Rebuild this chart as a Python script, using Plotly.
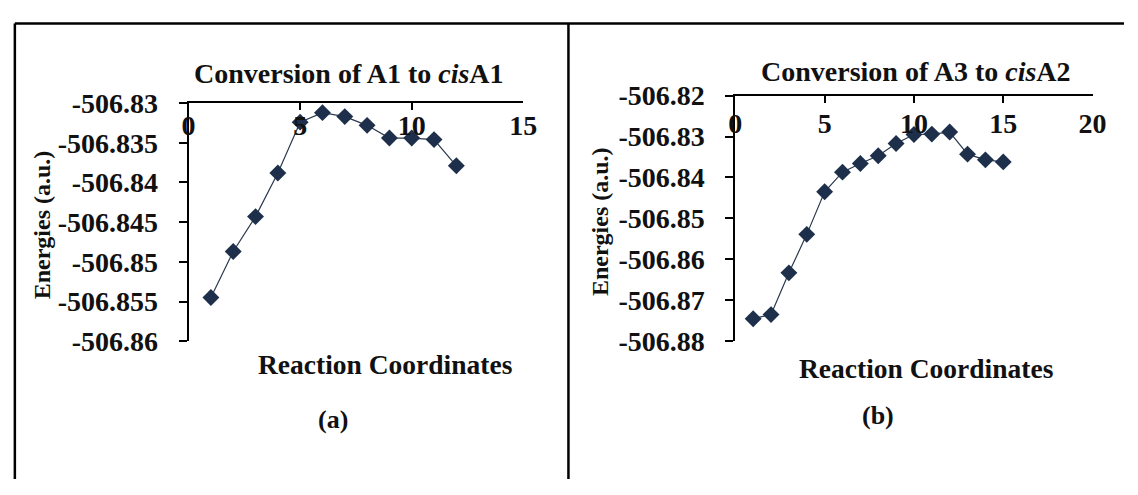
import plotly.graph_objects as go

# Reaction-coordinate energy profiles (a.u.)
coord_a = [1, 2, 3, 4, 5, 6, 7, 8, 9, 10, 11, 12]
energy_a = [-506.8545, -506.8487, -506.8443, -506.8388, -506.8324, -506.8312,
            -506.8317, -506.8328, -506.8344, -506.8344, -506.8346, -506.8379]

coord_b = [1, 2, 3, 4, 5, 6, 7, 8, 9, 10, 11, 12, 13, 14, 15]
energy_b = [-506.8745, -506.8735, -506.8633, -506.8539, -506.8435, -506.8387,
            -506.8366, -506.8347, -506.8317, -506.8295, -506.8294, -506.8289,
            -506.8343, -506.8357, -506.8362]

# Axis ticks
xticks_a = [0, 5, 10, 15]
xticks_b = [0, 5, 10, 15, 20]
yticks_a = [-506.83, -506.835, -506.84, -506.845, -506.85, -506.855, -506.86]
ylabels_a = ["-506.83", "-506.835", "-506.84", "-506.845", "-506.85", "-506.855", "-506.86"]
yticks_b = [-506.82, -506.83, -506.84, -506.85, -506.86, -506.87, -506.88]
ylabels_b = ["-506.82", "-506.83", "-506.84", "-506.85", "-506.86", "-506.87", "-506.88"]

titles = ["Conversion of A1 to <i>cis</i>A1", "Conversion of A3 to <i>cis</i>A2"]
panel_tags = ["(a)", "(b)"]
x_title = "Reaction Coordinates"
y_title = "Energies (a.u.)"

W, H = 1138, 495
SERIF = "Liberation Serif, Times New Roman, serif"
INK = "#111111"
MARK = "#1d2f4a"
EPS = 1e-7


def px(x):
    return x / W


def py(y):
    return 1 - y / H


fig = go.Figure()

fig.add_trace(go.Scatter(
    x=coord_a, y=energy_a, xaxis="x", yaxis="y", mode="lines+markers",
    line=dict(color="#2b3a4f", width=1.2),
    marker=dict(symbol="diamond", size=13, color=MARK),
    showlegend=False, hoverinfo="x+y"))

fig.add_trace(go.Scatter(
    x=coord_b, y=energy_b, xaxis="x2", yaxis="y2", mode="lines+markers",
    line=dict(color="#2b3a4f", width=1.2),
    marker=dict(symbol="diamond", size=13, color=MARK),
    showlegend=False, hoverinfo="x+y"))

tickfont = dict(family=SERIF, size=28, color=INK, weight="bold")

# x axes sit along the top edge with labels hanging below the line
common_x = dict(side="top", showline=True, linecolor="black", linewidth=2,
                ticks="inside", ticklen=7, tickwidth=2, tickcolor="black",
                ticklabelposition="inside", ticklabeloverflow="allow",
                showgrid=False, zeroline=False, tickfont=tickfont, fixedrange=True)
common_y = dict(showline=True, linecolor="black", linewidth=2,
                ticks="outside", ticklen=8, tickwidth=2, tickcolor="black",
                ticklabelstandoff=15,
                showgrid=False, zeroline=False, tickfont=tickfont, fixedrange=True)

fig.update_layout(
    width=W, height=H,
    margin=dict(l=0, r=0, t=0, b=0),
    paper_bgcolor="white", plot_bgcolor="white",
    xaxis=dict(domain=[px(185), px(526)], range=[-EPS, 15 + EPS], anchor="y",
               ticklabelstandoff=8,
               tickvals=xticks_a, ticktext=[str(v) for v in xticks_a], **common_x),
    yaxis=dict(domain=[py(348), py(94)], range=[-506.86 - EPS, -506.83 + EPS], anchor="x",
               tickvals=yticks_a, ticktext=ylabels_a, **common_y),
    xaxis2=dict(domain=[px(742), px(1106)], range=[-EPS, 20 + EPS], anchor="y2",
                ticklabelstandoff=13,
                tickvals=xticks_b, ticktext=[str(v) for v in xticks_b], **common_x),
    yaxis2=dict(domain=[py(348), py(86)], range=[-506.88 - EPS, -506.82 + EPS], anchor="x2",
                tickvals=yticks_b, ticktext=ylabels_b, **common_y),
)

annots = []


def label(text, x, y, size, angle=0, bold=True):
    annots.append(dict(text=text, x=px(x), y=py(y), xref="paper", yref="paper",
                       showarrow=False, xanchor="center", yanchor="middle",
                       textangle=angle,
                       font=dict(family=SERIF, size=size, color=INK,
                                 weight="bold" if bold else "normal")))


# Chart titles
label(titles[0], 348, 62, 28)
label(titles[1], 926, 60, 28)
# Axis titles
label(x_title, 386, 373, 27.5)
label(x_title, 937, 377, 27.5)
label(y_title, 36, 224, 24, angle=-90)
label(y_title, 604, 220, 24, angle=-90)
# Panel tags
label(panel_tags[0], 332, 431, 26)
label(panel_tags[1], 887, 427, 26)

fig.update_layout(annotations=annots)

# Frame lines around the two panels
line = dict(color="black", width=2.5)
fig.update_layout(shapes=[
    dict(type="line", xref="paper", yref="paper", x0=px(8), x1=1, y0=py(9), y1=py(9), line=line),
    dict(type="line", xref="paper", yref="paper", x0=px(8), x1=px(8), y0=py(9), y1=0, line=line),
    dict(type="line", xref="paper", yref="paper", x0=px(572), x1=px(572), y0=py(9), y1=0, line=line),
])

fig.write_html("out.html")
